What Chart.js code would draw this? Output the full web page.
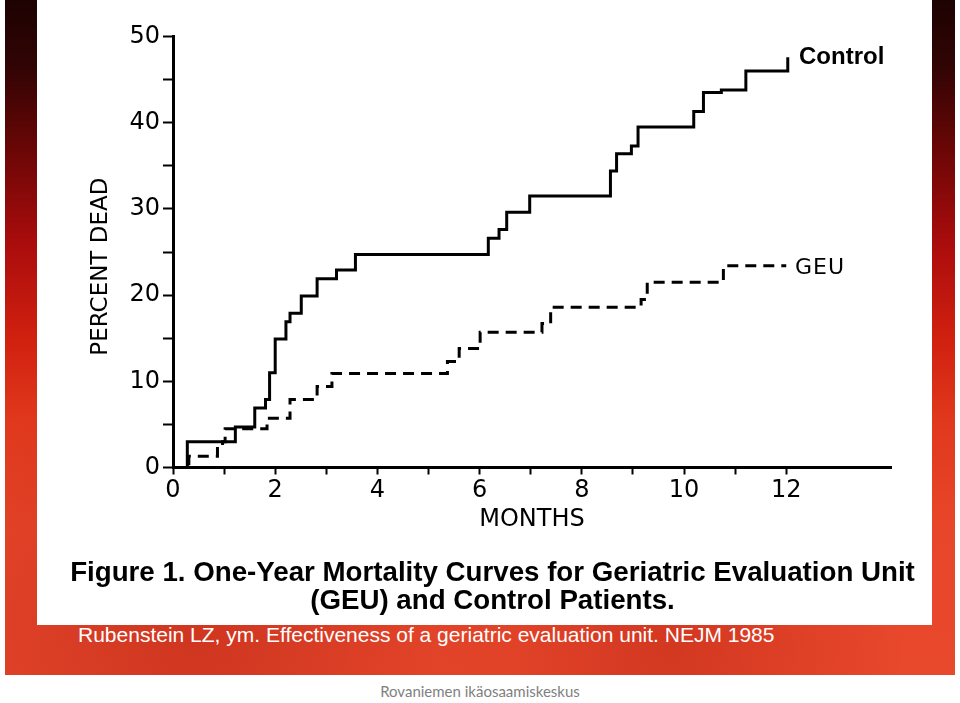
<!DOCTYPE html>
<html>
<head>
<meta charset="utf-8">
<script src="https://cdn.jsdelivr.net/npm/chart.js@4.4.1/dist/chart.umd.min.js"></script>
<style>
  html, body { margin: 0; padding: 0; }
  body { width: 960px; height: 703px; position: relative; overflow: hidden; background: #ffffff; }
  #slide {
    position: absolute; left: 5px; top: 0; width: 950px; height: 675px;
    background:
      radial-gradient(ellipse at 20% 95%, rgba(160,20,10,0.35) 0%, rgba(160,20,10,0) 30%),
      radial-gradient(ellipse at 70% 97%, rgba(170,25,12,0.35) 0%, rgba(170,25,12,0) 25%),
      linear-gradient(to bottom, #1e0202 0%, #320404 10%, #6a0606 22%, #aa0c0c 36%, #d0200f 50%, #e0381c 62%, #e8462a 78%, #e8482c 100%);
  }
  #fig { position: absolute; left: 37px; top: 0; width: 895px; height: 625px; background: #ffffff; }
  #chart { position: absolute; left: 0; top: 0; }
  .lbl { position: absolute; color: #000; white-space: nowrap; }
  #lblControl { left: 799px; top: 42px; font: bold 24px "Liberation Sans", Arial, sans-serif; }
  #lblGEU { left: 795px; top: 254px; font: 22px "DejaVu Sans", sans-serif; letter-spacing: 1px; }
  .cap { position: absolute; left: 45px; width: 895px; text-align: center; color: #000;
         font: bold 27.7px "Liberation Sans", Arial, sans-serif; white-space: nowrap; line-height: 32px; }
  #cap1 { top: 556px; }
  #cap2 { top: 584px; }
  #source { position: absolute; left: 78px; top: 623px; color: #ffffff; white-space: nowrap;
            font: 21px "Liberation Sans", Arial, sans-serif; }
  #footer { position: absolute; left: 0; width: 960px; top: 682px; text-align: center; color: #7f7f7f;
            font: 15px Lato, "Open Sans", sans-serif; }
</style>
</head>
<body>
<div id="slide"></div>
<div id="fig"></div>
<canvas id="chart" width="960" height="560"></canvas>
<div class="lbl" id="lblControl">Control</div>
<div class="lbl" id="lblGEU">GEU</div>
<div class="cap" id="cap1">Figure 1. One-Year Mortality Curves for Geriatric Evaluation Unit</div>
<div class="cap" id="cap2">(GEU) and Control Patients.</div>
<div id="source">Rubenstein LZ, ym. Effectiveness of a geriatric evaluation unit. NEJM 1985</div>
<div id="footer">Rovaniemen ikäosaamiskeskus</div>
<script>
// ---- data ----
const controlMonths  = [0, 0.28, 1.22, 1.60, 1.81, 1.89, 2.00, 2.21, 2.29, 2.51, 2.82, 3.20, 3.57, 6.17, 6.38, 6.53, 6.98, 8.56, 8.68, 8.97, 9.10, 10.19, 10.38, 10.73, 11.21, 12.03];
const controlPercent = [0, 3.0,  4.7,  6.9,  7.9,  11.0, 14.9, 16.9, 17.9, 19.9, 21.9, 22.9, 24.7, 26.6, 27.6, 29.6, 31.5, 34.4, 36.4, 37.3, 39.5, 41.3,  43.5,  43.8,  46.0,  47.6];
const geuMonths  = [0, 0.31, 0.87, 0.97, 1.02, 1.84, 2.29, 2.82, 3.11, 5.37, 5.60, 6.01, 7.22, 7.39, 9.16, 9.28, 10.77, 12.00];
const geuPercent = [0, 1.3,  2.4,  3.0,  4.5,  5.7,  7.9,  9.4,  10.9, 12.3, 13.8, 15.7, 16.7, 18.6, 19.5, 21.5, 23.4,  23.4];
const xTickValues = [0, 1, 2, 3, 4, 5, 6, 7, 8, 9, 10, 11, 12];
const yTickValues = [0, 5, 10, 15, 20, 25, 30, 35, 40, 45, 50];
const xTitle = 'MONTHS';
const yTitle = 'PERCENT DEAD';

const toPts = (xs, ys) => xs.map((x, i) => ({ x: x, y: ys[i] }));

const tickFont = { family: 'DejaVu Sans', size: 24 };
const xTitleFont = { family: 'DejaVu Sans', size: 24 };
const yTitleFont = { family: 'DejaVu Sans', size: 23 };

new Chart(document.getElementById('chart'), {
  type: 'line',
  data: {
    datasets: [
      { label: 'Control', data: toPts(controlMonths, controlPercent), borderColor: '#000', borderWidth: 3,
        stepped: 'before', pointRadius: 0, fill: false, borderCapStyle: 'butt', borderJoinStyle: 'miter' },
      { label: 'GEU', data: toPts(geuMonths, geuPercent), borderColor: '#000', borderWidth: 3,
        borderDash: [11, 7], stepped: 'before', pointRadius: 0, fill: false, borderCapStyle: 'butt', borderJoinStyle: 'miter' }
    ]
  },
  options: {
    responsive: false,
    animation: false,
    devicePixelRatio: 1,
    layout: { padding: { left: 80, top: 36.5, right: 69, bottom: 22.5 } },
    plugins: { legend: { display: false }, tooltip: { enabled: false } },
    scales: {
      x: {
        type: 'linear', min: 0, max: 14.05,
        afterBuildTicks: (s) => { s.ticks = xTickValues.map(v => ({ value: v })); },
        afterFit: (s) => { s.height = 70; },
        ticks: { includeBounds: false, color: '#000', font: tickFont, padding: 2, maxRotation: 0, autoSkip: false,
                 callback: (v) => (v % 2 === 0 ? String(v) : '') },
        grid: { drawOnChartArea: false, drawTicks: true, tickLength: 7, tickWidth: 2, color: '#000' },
        border: { display: true, color: '#000', width: 3 },
        title: { display: true, text: xTitle, color: '#000', font: xTitleFont, padding: { top: 0, bottom: 3 } }
      },
      y: {
        type: 'linear', min: 0, max: 50,
        afterBuildTicks: (s) => { s.ticks = yTickValues.map(v => ({ value: v })); },
        afterFit: (s) => { s.width = 93; },
        ticks: { color: '#000', font: tickFont, padding: 3, autoSkip: false,
                 callback: (v) => (v % 10 === 0 ? String(v) : '') },
        grid: { drawOnChartArea: false, drawTicks: true, tickLength: 10, tickWidth: 2, color: '#000' },
        border: { display: true, color: '#000', width: 3 },
        title: { display: true, text: yTitle + '    ', color: '#000', font: yTitleFont, padding: { top: 7, bottom: 0 } }
      }
    }
  }
});
</script>
</body>
</html>
